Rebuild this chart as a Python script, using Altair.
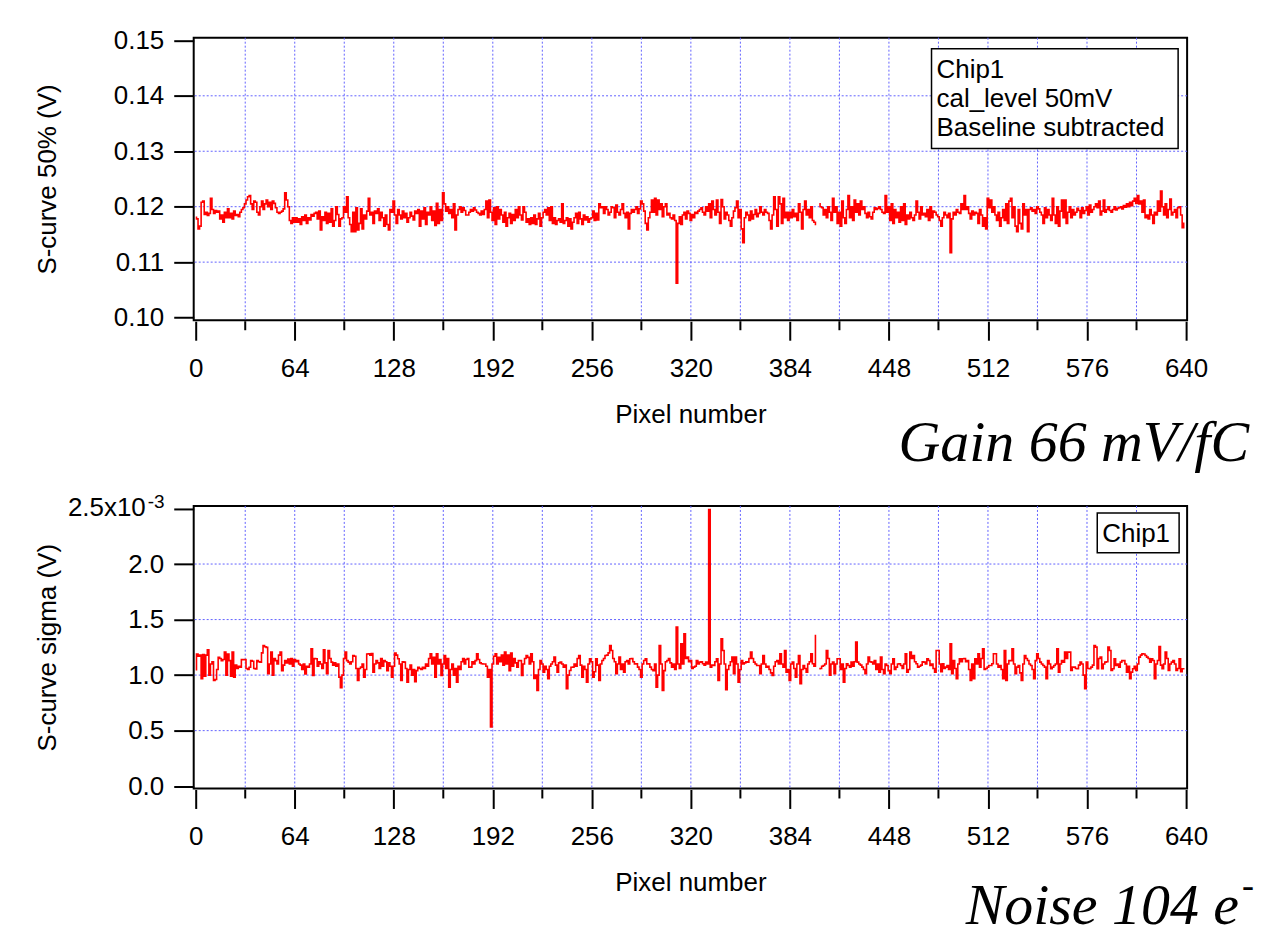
import altair as alt
import pandas as pd

# ---------------- data ----------------
# S-curve 50% threshold per pixel, units of 1e-4 V (None = missing pixel)
top_raw = [
    1181, 1178, 1160, 1165, 1208, 1210, 1186, 1190, 1184, 1188, 1215, 1195, 1188, 1193, 1190, 1192,
    1178, 1185, 1172, 1190, 1180, 1196, 1180, 1188, 1178, 1192, 1184, 1186, 1182, 1190, 1195, 1198,
    1205, 1212, 1218, 1220, 1205, 1195, 1210, 1208, 1190, 1185, 1200, 1210, 1195, 1205, 1212, 1200,
    1208, 1195, 1210, 1206, 1198, 1190, 1188, 1190, 1192, 1196, 1225, 1212, 1200, 1175, 1170, 1180,
    1172, 1180, 1172, 1178, 1168, 1182, 1175, 1185, 1170, 1180, 1176, 1186, 1183, 1188, 1190, 1178,
    1192, 1158, 1182, 1175, 1190, 1170, 1188, 1172, 1196, 1165, 1175, 1200, 1186, 1165, 1178, 1180,
    1200, 1190, 1218, 1180, 1168, 1155, 1190, 1155, 1198, 1158, 1170, 1196, 1160, 1185, 1178, 1192,
    1215, 1185, 1190, 1170, 1192, 1188, 1196, 1175, 1190, 1180, 1165, 1185, 1168, 1158, 1195, 1190,
    1210, 1185, 1170, 1195, 1185, 1178, 1192, 1180, 1188, 1172, 1180, 1190, 1183, 1176, 1192, 1188,
    1195, 1165, 1192, 1178, 1198, 1168, 1190, 1185, 1200, 1175, 1192, 1166, 1206, 1170, 1195, 1175,
    1225, 1205, 1192, 1200, 1188, 1195, 1180, 1205, 1158, 1185, 1195, 1200, 1190, 1198, 1193, 1185,
    1185, 1190, 1195, 1192, 1198, 1194, 1190, 1188, 1185, 1192, 1186, 1195, 1210, 1180, 1212, 1190,
    1175, 1198, 1168, 1200, 1178, 1195, 1185, 1172, 1190, 1165, 1180, 1188, 1170, 1186, 1175, 1195,
    1180, 1200, 1185, 1176, 1200, 1190, 1172, 1178, 1168, 1180, 1170, 1185, 1168, 1178, 1188, 1165,
    1180, 1190, 1195, 1185, 1198, 1175, 1200, 1170, 1180, 1168, 1175, 1178, 1172, 1205, 1170, 1175,
    1180, 1165, 1178, 1160, 1172, 1180, 1188, 1170, 1190, 1178, 1168, 1185, 1176, 1182, 1172, 1178,
    1180, 1192, 1175, 1188, 1176, 1205, 1198, 1200, 1188, 1200, 1195, 1185, 1190, 1200, 1198, 1180,
    1203, 1190, 1185, 1195, 1205, 1188, 1180, 1190, 1160, 1188, 1195, 1190, 1195, 1200, 1188, 1196,
    1210, 1205, 1192, 1170, 1158, 1180, 1190, 1212, 1190, 1215, 1185, 1212, 1195, 1205, 1182, 1200,
    1205, 1185, 1188, 1180, 1178, 1185, 1175, 1062, 1170, 1182, 1168, 1185, 1190, 1178, 1192, 1188,
    1175, 1186, 1180, 1190, 1188, 1192, 1195, 1198, 1190, 1185, 1200, 1192, 1205, 1180, 1210, 1195,
    1185, 1212, 1190, 1170, 1213, 1200, 1178, 1190, 1185, 1175, 1165, 1180, 1192, 1198, 1210, 1180,
    1195, 1160, 1135, 1180, 1190, 1185, 1175, 1192, 1178, 1186, 1195, 1182, 1188, 1200, 1190, 1185,
    1195, 1190, 1188, 1175, 1160, 1185, 1218, 1195, 1165, 1218, 1205, 1170, 1215, 1180, 1190, 1175,
    1190, 1180, 1195, 1182, 1188, 1175, 1205, 1190, 1160, 1195, 1210, 1185, 1195, 1180, 1200, 1175,
    1172, 1168, None, 1205, 1200, 1198, 1185, 1195, 1180, 1200, 1190, 1175, 1215, 1190, 1200, 1170,
    1190, 1165, 1210, 1180, 1170, 1195, 1220, 1180, 1200, 1175, 1212, 1190, 1205, 1185, 1210, 1195,
    1200, 1188, 1180, 1190, 1182, 1178, 1190, 1198, 1195, 1197, 1200, 1195, 1190, 1188, 1220, 1190,
    1200, 1175, 1205, 1170, 1195, 1180, 1190, 1172, 1200, 1175, 1205, 1168, 1185, 1178, 1190, 1180,
    1175, 1185, 1210, 1190, 1178, 1200, 1185, 1188, 1182, 1195, 1175, 1200, 1180, 1192, 1190, 1185,
    1182, 1175, 1165, 1180, 1190, 1185, 1180, 1188, 1117, 1178, 1190, 1185, 1195, 1190, 1188, 1205,
    1195, 1220, 1195, 1200, 1188, 1178, 1192, 1185, 1190, 1188, 1170, 1195, 1185, 1165, 1180, 1160,
    1215, 1198, 1212, 1190, 1200, 1185, 1175, 1190, 1165, 1180, 1195, 1175, 1205, 1170, 1210, 1215,
    1180, 1200, 1165, 1155, 1195, 1170, 1160, 1205, 1185, 1195, 1155, 1195, 1198, 1192, 1195, 1188,
    1200, 1196, 1190, 1185, 1170, 1198, 1180, 1195, 1185, 1175, 1215, 1185, 1170, 1200, 1165, 1192,
    1212, 1180, 1212, 1170, 1190, 1200, 1180, 1195, 1185, 1190, 1197, 1193, 1180, 1198, 1188, 1193,
    1200, 1185, 1203, 1190, 1195, 1200, 1205, 1198, 1210, 1185, 1192, 1212, 1190, 1195, 1200, 1193,
    1190, 1195, 1200, 1194, 1197, 1198, 1200, 1196, 1202, 1199, 1205, 1200, 1208, 1202, 1210, 1215,
    1206, 1220, 1205, 1210, 1190, 1212, 1180, 1185, 1178, 1195, 1185, 1170, 1190, 1185, 1210, 1192,
    1228, 1200, 1185, 1205, 1180, 1195, 1214, 1185, 1190, 1195, 1180, 1198, 1200, 1185, 1162, 1170,
]

# S-curve sigma per pixel, units of 1e-6 V (None = missing pixel)
sigma_raw = [
    1048, 1190, 1170, 1180, 967, 1185, 990, 1180, 1228, 1000, 1100, 1120, 952, 960, 1050, 1160,
    1150, 1130, 1140, 1207, 1000, 1190, 1130, 990, 1207, 980, 1090, 1060, 1080, 1070, 1140, 1138,
    1140, 1060, 1050, 1070, 1130, 1125, 1060, 1055, 1132, 1120, 1117, 1200, 1267, 1255, 1250, 1012,
    1100, 1207, 1000, 1150, 1130, 1100, 1180, 1207, 1040, 1090, 1130, 1110, 1145, 1100, 1150, 1080,
    1140, 1120, 1130, 1100, 1090, 1050, 1100, 1010, 1080, 1070, 1100, 1237, 997, 1150, 1147, 1080,
    1120, 1100, 1060, 1228, 1110, 1012, 1222, 1150, 1117, 1090, 1110, 1080, 1100, 982, 886, 1000,
    1150, 1207, 1130, 1117, 1100, 1120, 1177, 1170, 1060, 952, 1060, 1072, 1100, 982, 1050, 1190,
    1192, 1180, 1195, 1027, 1100, 1130, 1110, 1060, 1150, 1080, 1130, 1120, 1040, 1110, 1080, 982,
    1080, 1198, 1180, 1147, 1100, 952, 1120, 1117, 1060, 937, 1050, 1090, 1000, 1050, 940, 1040,
    1070, 1060, 1050, 1070, 1060, 1100, 1080, 1150, 1192, 1100, 1160, 982, 1192, 1100, 1140, 997,
    1100, 1177, 1060, 1150, 892, 1050, 1100, 1000, 1060, 937, 1080, 1050, 1120, 1150, 1100, 1140,
    1150, 1070, 1072, 1120, 1100, 1130, 1192, 1140, 1110, 1102, 1100, 1100, 1080, 982, 1050, 532,
    1100, 1170, 1192, 1100, 1160, 1120, 1180, 1090, 1207, 1100, 1180, 1040, 1198, 1080, 1150, 1110,
    1072, 1132, 1130, 997, 1100, 1150, 1177, 1160, 1100, 1192, 1120, 970, 1000, 862, 1050, 1132,
    1100, 1027, 1080, 1050, 967, 1080, 1100, 1120, 1162, 1090, 1027, 1110, 1117, 1100, 1072, 1090,
    877, 1000, 1042, 1070, 1072, 1100, 1080, 1150, 1177, 1090, 982, 1080, 1050, 937, 1100, 1147,
    1120, 982, 1030, 1147, 1090, 952, 1100, 1132, 1150, 1177, 1180, 1200, 1267, 1222, 1150, 1120,
    1012, 1100, 1162, 1050, 1100, 1027, 1120, 1132, 1100, 1147, 1150, 1120, 1100, 1102, 1072, 1050,
    982, 1100, 1132, 1147, 1100, 1102, 1072, 1050, 1040, 1100, 892, 1000, 1267, 1100, 862, 1040,
    1120, 1132, 1150, 1110, 1072, 1100, 1050, 1432, 1100, 1060, 1282, 1100, 1372, 1150, 1162, 1120,
    1132, 1060, 1072, 1080, 1132, 1100, 1117, 1120, 1102, 1090, 1117, 1100, 2490, 1072, 1090, 1087,
    1120, 1147, 952, 1100, 1327, 1222, 1100, 868, 1050, 1087, 1120, 1162, 1012, 1162, 1100, 937,
    1050, 1132, 1100, 1110, 1120, 1117, 1150, 1207, 1150, 1117, 1100, 1087, 1087, 1012, 1100, 1177,
    1100, 1072, 1080, 1050, 1020, 997, 1080, 1120, 1132, 1100, 1192, 1100, 1072, 1222, 1027, 1050,
    952, 1100, 1117, 1060, 982, 1100, 1177, 922, 1050, 1087, 1060, 1027, 1100, 1120, 1192, 1102,
    1080, 1357, None, 1057, 1060, 1080, 1087, 1100, 1222, 1150, 1000, 1100, 1117, 1012, 1100, 1147,
    1147, 1050, 1100, 937, 1060, 1102, 1087, 1072, 1117, 1080, 1120, 1297, 1117, 1100, 1090, 1072,
    1050, 1012, 1100, 1162, 1120, 1117, 1100, 1132, 1050, 1100, 1027, 1162, 1050, 1012, 1100, 1087,
    1040, 1012, 1100, 1147, 1050, 1072, 1100, 1102, 1087, 1060, 1100, 1192, 1027, 1050, 1207, 1150,
    1177, 1120, 1102, 1072, 1080, 1090, 1120, 1117, 1100, 1147, 1132, 1087, 1100, 1060, 1027, 1222,
    1222, 1100, 1030, 1102, 1060, 1072, 1087, 1050, 1282, 1012, 1132, 1060, 967, 1100, 1147, 1120,
    1147, 1150, 1120, 1132, 1050, 952, 1100, 967, 1147, 1100, 1192, 1072, 1150, 1237, 1050, 1060,
    1072, 1087, 1087, 1102, 1192, 1192, 1100, 1072, 1087, 1050, 967, 1222, 952, 1100, 1132, 1130,
    1237, 1100, 1012, 1072, 1087, 1020, 952, 1100, 1177, 1150, 1132, 1100, 1087, 1050, 967, 1130,
    1192, 1150, 1117, 1100, 1087, 1072, 967, 1132, 1100, 1057, 1072, 1087, 1100, 1237, 1027, 1100,
    1132, 1117, 1207, 1150, 1207, 1207, 1042, 1072, 1072, 1060, 1057, 1090, 1117, 1100, 1000, 877,
    1117, 1060, 1057, 1072, 1090, 1267, 1252, 1057, 1150, 1162, 1057, 1100, 1117, 1120, 1252, 1222,
    1042, 1057, 1147, 1087, 1100, 1072, 1117, 1130, 1132, 1100, 1027, 1080, 967, 1027, 1057, 1080,
    1042, 1100, 1162, 1180, 1192, 1190, 1177, 1162, 1150, 1117, 1147, 1132, 967, 1100, 1132, 1258,
    1090, 1057, 1100, 1207, 1150, 1042, 1100, 1117, 1132, 1100, 1042, 1060, 1147, 1030, 1057, 1057,
]

x_major = list(range(0, 641, 64))
x_minor = list(range(32, 640, 64))
x_grid = list(range(32, 640, 32))
top_ticks = [0.10, 0.11, 0.12, 0.13, 0.14, 0.15]
top_grid = [0.11, 0.12, 0.13, 0.14]
sig_ticks = [0.0, 0.5, 1.0, 1.5, 2.0, 2.5]
sig_grid = [0.5, 1.0, 1.5, 2.0]
sig_top_label = "2.5x10"
sig_top_exp = "-3"
legend_top = ["Chip1", "cal_level 50mV", "Baseline subtracted"]
legend_bottom = ["Chip1"]
gain_text = "Gain 66 mV/fC"
noise_text = "Noise 104 e"


def series_frame(raw, scale):
    df = pd.DataFrame({"pixel": list(range(len(raw))),
                       "value": [None if r is None else r / scale for r in raw]})
    df["seg"] = df["value"].isna().cumsum()
    return df.dropna()


df_top = series_frame(top_raw, 10000.0)
df_sig = series_frame(sigma_raw, 1000.0)   # in units of 1e-3 V

W, H = 995, 283
FONT = "Liberation Sans"
GRID = "#6262ff"

xs = alt.Scale(domain=[-1.3, 640.7], nice=False, zero=False)
one = pd.DataFrame({"a": [0]})
x_axis = alt.Axis(values=x_major, tickSize=19, offset=1, labelPadding=15,
                  title="Pixel number", titleY=93, titleBaseline="middle", format="d")


def panel(df, ydomain, yticks, ygrid, ytitle, label_expr, legend_lines, box):
    ys = alt.Scale(domain=ydomain, nice=False, zero=False)
    y_axis = alt.Axis(values=yticks, tickSize=20, labelPadding=10,
                      labelExpr=label_expr, title=ytitle,
                      titleX=-146, titleBaseline="middle")
    line = alt.Chart(df).mark_line(
        color="#ff0000", strokeWidth=1.6, interpolate="step"
    ).encode(
        x=alt.X("pixel:Q", scale=xs, axis=x_axis),
        y=alt.Y("value:Q", scale=ys, axis=y_axis),
        detail="seg:N",
    )
    vgrid = alt.Chart(pd.DataFrame({"pixel": x_grid})).mark_rule(
        color=GRID, strokeDash=[2, 2], strokeWidth=1
    ).encode(x=alt.X("pixel:Q", scale=xs, axis=x_axis))
    hgrid = alt.Chart(pd.DataFrame({"value": ygrid})).mark_rule(
        color=GRID, strokeDash=[2, 2], strokeWidth=1
    ).encode(y=alt.Y("value:Q", scale=ys, axis=y_axis))
    minor = alt.Chart(pd.DataFrame({"pixel": x_minor})).mark_rule(
        color="black", strokeWidth=2
    ).encode(x=alt.X("pixel:Q", scale=xs, axis=x_axis),
             y=alt.value(H + 1), y2=alt.value(H + 10))
    bx0, bx1, by0, by1 = box
    rect = alt.Chart(one).mark_rect(fill="white", stroke="black", strokeWidth=1.5).encode(
        x=alt.value(bx0), x2=alt.value(bx1), y=alt.value(by0), y2=alt.value(by1))
    extra = [rect]
    for i, txt in enumerate(legend_lines):
        extra.append(alt.Chart(one).mark_text(
            font=FONT, fontSize=26, align="left", baseline="alphabetic", color="black"
        ).encode(x=alt.value(bx0 + 5), y=alt.value(by0 + 29 + 29 * i), text=alt.value(txt)))
    # draw order: grid, minor ticks, data line, legend
    return [vgrid, hgrid, minor, line] + extra


top_layers = panel(df_top, [0.09952, 0.15048], top_ticks, top_grid, "S-curve 50% (V)",
                   "format(datum.value, '.2f')", legend_top, (739, 986, 11, 111))
anchor = alt.Chart(one).mark_point(opacity=0, size=1).encode(
    x=alt.value(-184), y=alt.value(-27))
gain = alt.Chart(one).mark_text(
    font="Liberation Serif", fontStyle="italic", fontSize=58, align="right",
    baseline="alphabetic", color="black"
).encode(x=alt.value(1057), y=alt.value(424), text=alt.value(gain_text))
top = alt.layer(*top_layers, gain, anchor).properties(width=W, height=H)

bot_layers = panel(df_sig, [-0.021, 2.523], sig_ticks, sig_grid, "S-curve sigma (V)",
                   "datum.value > 2.4 ? '' : format(datum.value, '.1f')",
                   legend_bottom, (905, 987, 7, 47))
top_lab = alt.Chart(pd.DataFrame({"value": [2.5]})).mark_text(
    font=FONT, fontSize=26, align="right", baseline="middle", color="black"
).encode(x=alt.value(-48), y=alt.Y("value:Q", scale=alt.Scale(domain=[-0.021, 2.523], nice=False, zero=False),
                                    axis=alt.Axis(values=sig_ticks, tickSize=20, labelPadding=10,
                                                  labelExpr="datum.value > 2.4 ? '' : format(datum.value, '.1f')",
                                                  title="S-curve sigma (V)", titleX=-146, titleBaseline="middle")),
         text=alt.value(sig_top_label))
sup3 = alt.Chart(one).mark_text(
    font=FONT, fontSize=19, align="left", baseline="top", color="black"
).encode(x=alt.value(-46), y=alt.value(-13), text=alt.value(sig_top_exp))
noise = alt.Chart(one).mark_text(
    font="Liberation Serif", fontStyle="italic", fontSize=58, align="right",
    baseline="alphabetic", color="black"
).encode(x=alt.value(1047), y=alt.value(419), text=alt.value(noise_text))
noise_sup = alt.Chart(one).mark_text(
    font="Liberation Serif", fontStyle="italic", fontSize=36, align="left",
    baseline="alphabetic", color="black"
).encode(x=alt.value(1050), y=alt.value(392), text=alt.value("-"))
bottom = alt.layer(*bot_layers, top_lab, sup3, noise, noise_sup).properties(width=W, height=H)

chart = alt.vconcat(top, bottom, spacing=186, bounds="flush").properties(
    padding=0, background="white"
).configure_view(
    stroke="black", strokeWidth=2
).configure_axis(
    labelFont=FONT, labelFontSize=26, labelColor="black",
    titleFont=FONT, titleFontSize=26, titleFontWeight="normal", titleColor="black",
    tickColor="black", tickWidth=2, domain=False, grid=False
)

chart.save("out.html", embed_options={"renderer": "svg", "actions": False})
